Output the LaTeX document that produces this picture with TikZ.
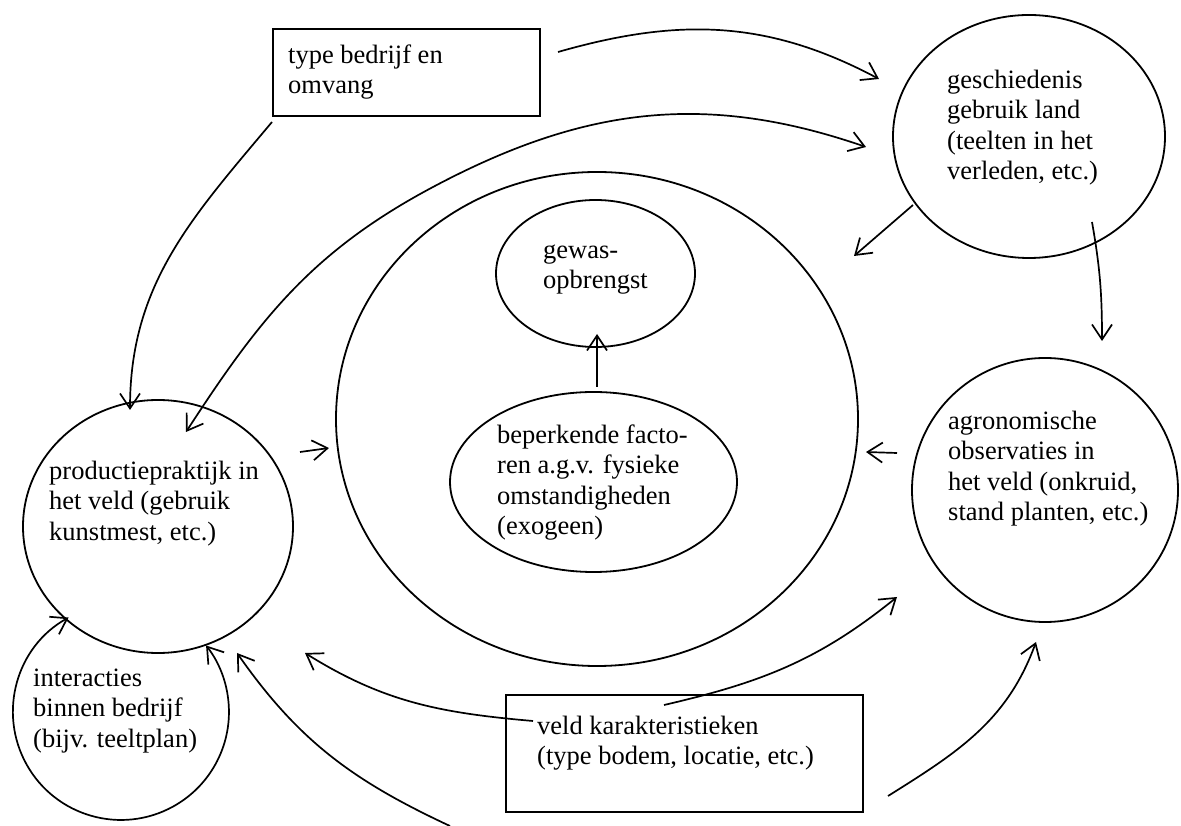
\documentclass[tikz,border=0pt]{standalone}
\usepackage{fontspec}
\setmainfont{Liberation Serif}
\usetikzlibrary{arrows.meta,shapes.geometric}
\begin{document}
\begin{tikzpicture}[x=1pt,y=1pt,
  shp/.style={draw, line width=1.8pt, ellipse, inner sep=0pt},
  boxn/.style={draw, line width=2pt, rectangle, inner sep=0pt},
  txt/.style={anchor=north west, inner sep=0pt, align=left, font=\fontsize{26.5}{30.5}\selectfont},
  con/.style={line width=1.7pt, -{Straight Barb[length=15pt,width=20pt]}},
  con2/.style={line width=1.7pt, {Straight Barb[length=15pt,width=20pt]}-{Straight Barb[length=15pt,width=20pt]}}]
\fill[white] (0,0) rectangle (1181,825);
\useasboundingbox (0,0) rectangle (1181,825);

% shapes
\node[boxn, minimum width=267pt, minimum height=87pt] (box1) at (406.5,752.5) {};
\node[boxn, minimum width=357pt, minimum height=117pt] (box2) at (684.5,71.5) {};
\node[shp, minimum width=272pt, minimum height=243pt] (gesch) at (1029,688.5) {};
\node[shp, minimum width=522pt, minimum height=494pt] (big) at (597,406) {};
\node[shp, minimum width=199pt, minimum height=147pt] (gewas) at (595.5,551.5) {};
\node[shp, minimum width=287pt, minimum height=180pt] (beperk) at (593.5,343) {};
\node[shp, minimum width=270pt, minimum height=253pt] (prod) at (158,298.5) {};
\node[shp, minimum width=266pt, minimum height=264pt] (agron) at (1045,335) {};

% texts
\node[txt] (tbox1) at (288,783.35) {\strut type bedrijf en\\omvang};
\node[txt] (tgesch) at (947,758.35) {\strut geschiedenis\\gebruik land\\(teelten in het\\verleden, etc.)};
\node[txt] (tgewas) at (543,588.35) {\strut gewas-\\opbrengst};
\node[txt] (tbeperk) at (497,403.35) {\strut beperkende facto-\\ren a.g.v. fysieke\\omstandigheden\\(exogeen)};
\node[txt] (tprod) at (49,367.35) {\strut productiepraktijk in\\het veld (gebruik\\kunstmest, etc.)};
\node[txt] (tinter) at (33,160.35) {\strut interacties\\binnen bedrijf\\(bijv. teeltplan)};
\node[txt] (tagron) at (948,417.35) {\strut agronomische\\observaties in\\het veld (onkruid,\\stand planten, etc.)};
\node[txt] (tbox2) at (537,112.35) {\strut veld karakteristieken\\(type bodem, locatie, etc.)};

% connector end points
\coordinate (a1s) at (558,773);  \coordinate (a1e) at (879,746);
\coordinate (a2s) at (186,393);  \coordinate (a2m) at (433,638); \coordinate (a2e) at (866,678);
\coordinate (a3s) at (272,703);  \coordinate (a3e) at (130,415);
\coordinate (a4s) at (913,620);  \coordinate (a4e) at (854,569);
\coordinate (a5s) at (1092,603); \coordinate (a5e) at (1102,484);
\coordinate (a6s) at (300,373);  \coordinate (a6e) at (329,377);
\coordinate (a7s) at (897,372);  \coordinate (a7e) at (866,373);
\coordinate (a8s) at (533,104);  \coordinate (a8e) at (305,172);
\coordinate (a9s) at (664,120);  \coordinate (a9e) at (897,228);
\coordinate (a10s) at (888,29);  \coordinate (a10e) at (1036,183);
\coordinate (a11s) at (450,-1);  \coordinate (a11e) at (237,172);
\coordinate (g1) at (597,438);   \coordinate (g2) at (597,491);
\coordinate (is) at (68.6,207.5);

% connectors
\draw[con] (a1s) to[out=16,in=152] (a1e);
\draw[con2] (a2s) to[out=57,in=208] (a2m) to[out=28,in=161] (a2e);
\draw[con] (a3s) to[out=-130,in=90] (a3e);
\draw[con] (a4s) -- (a4e);
\draw[con] (a5s) to[out=-80,in=90] (a5e);
\draw[con] (a6s) -- (a6e);
\draw[con] (a7s) -- (a7e);
\draw[con] (a8s) to[out=175,in=-32] (a8e);
\draw[con] (a9s) to[out=13,in=-141] (a9e);
\draw[con] (a10s) to[out=32,in=-110] (a10e);
\draw[con] (a11s) to[out=155,in=-55] (a11e);
\draw[con] (g1) -- (g2);
\draw[con2] (is) arc[start angle=119, end angle=398, radius=108];
\end{tikzpicture}
\end{document}
